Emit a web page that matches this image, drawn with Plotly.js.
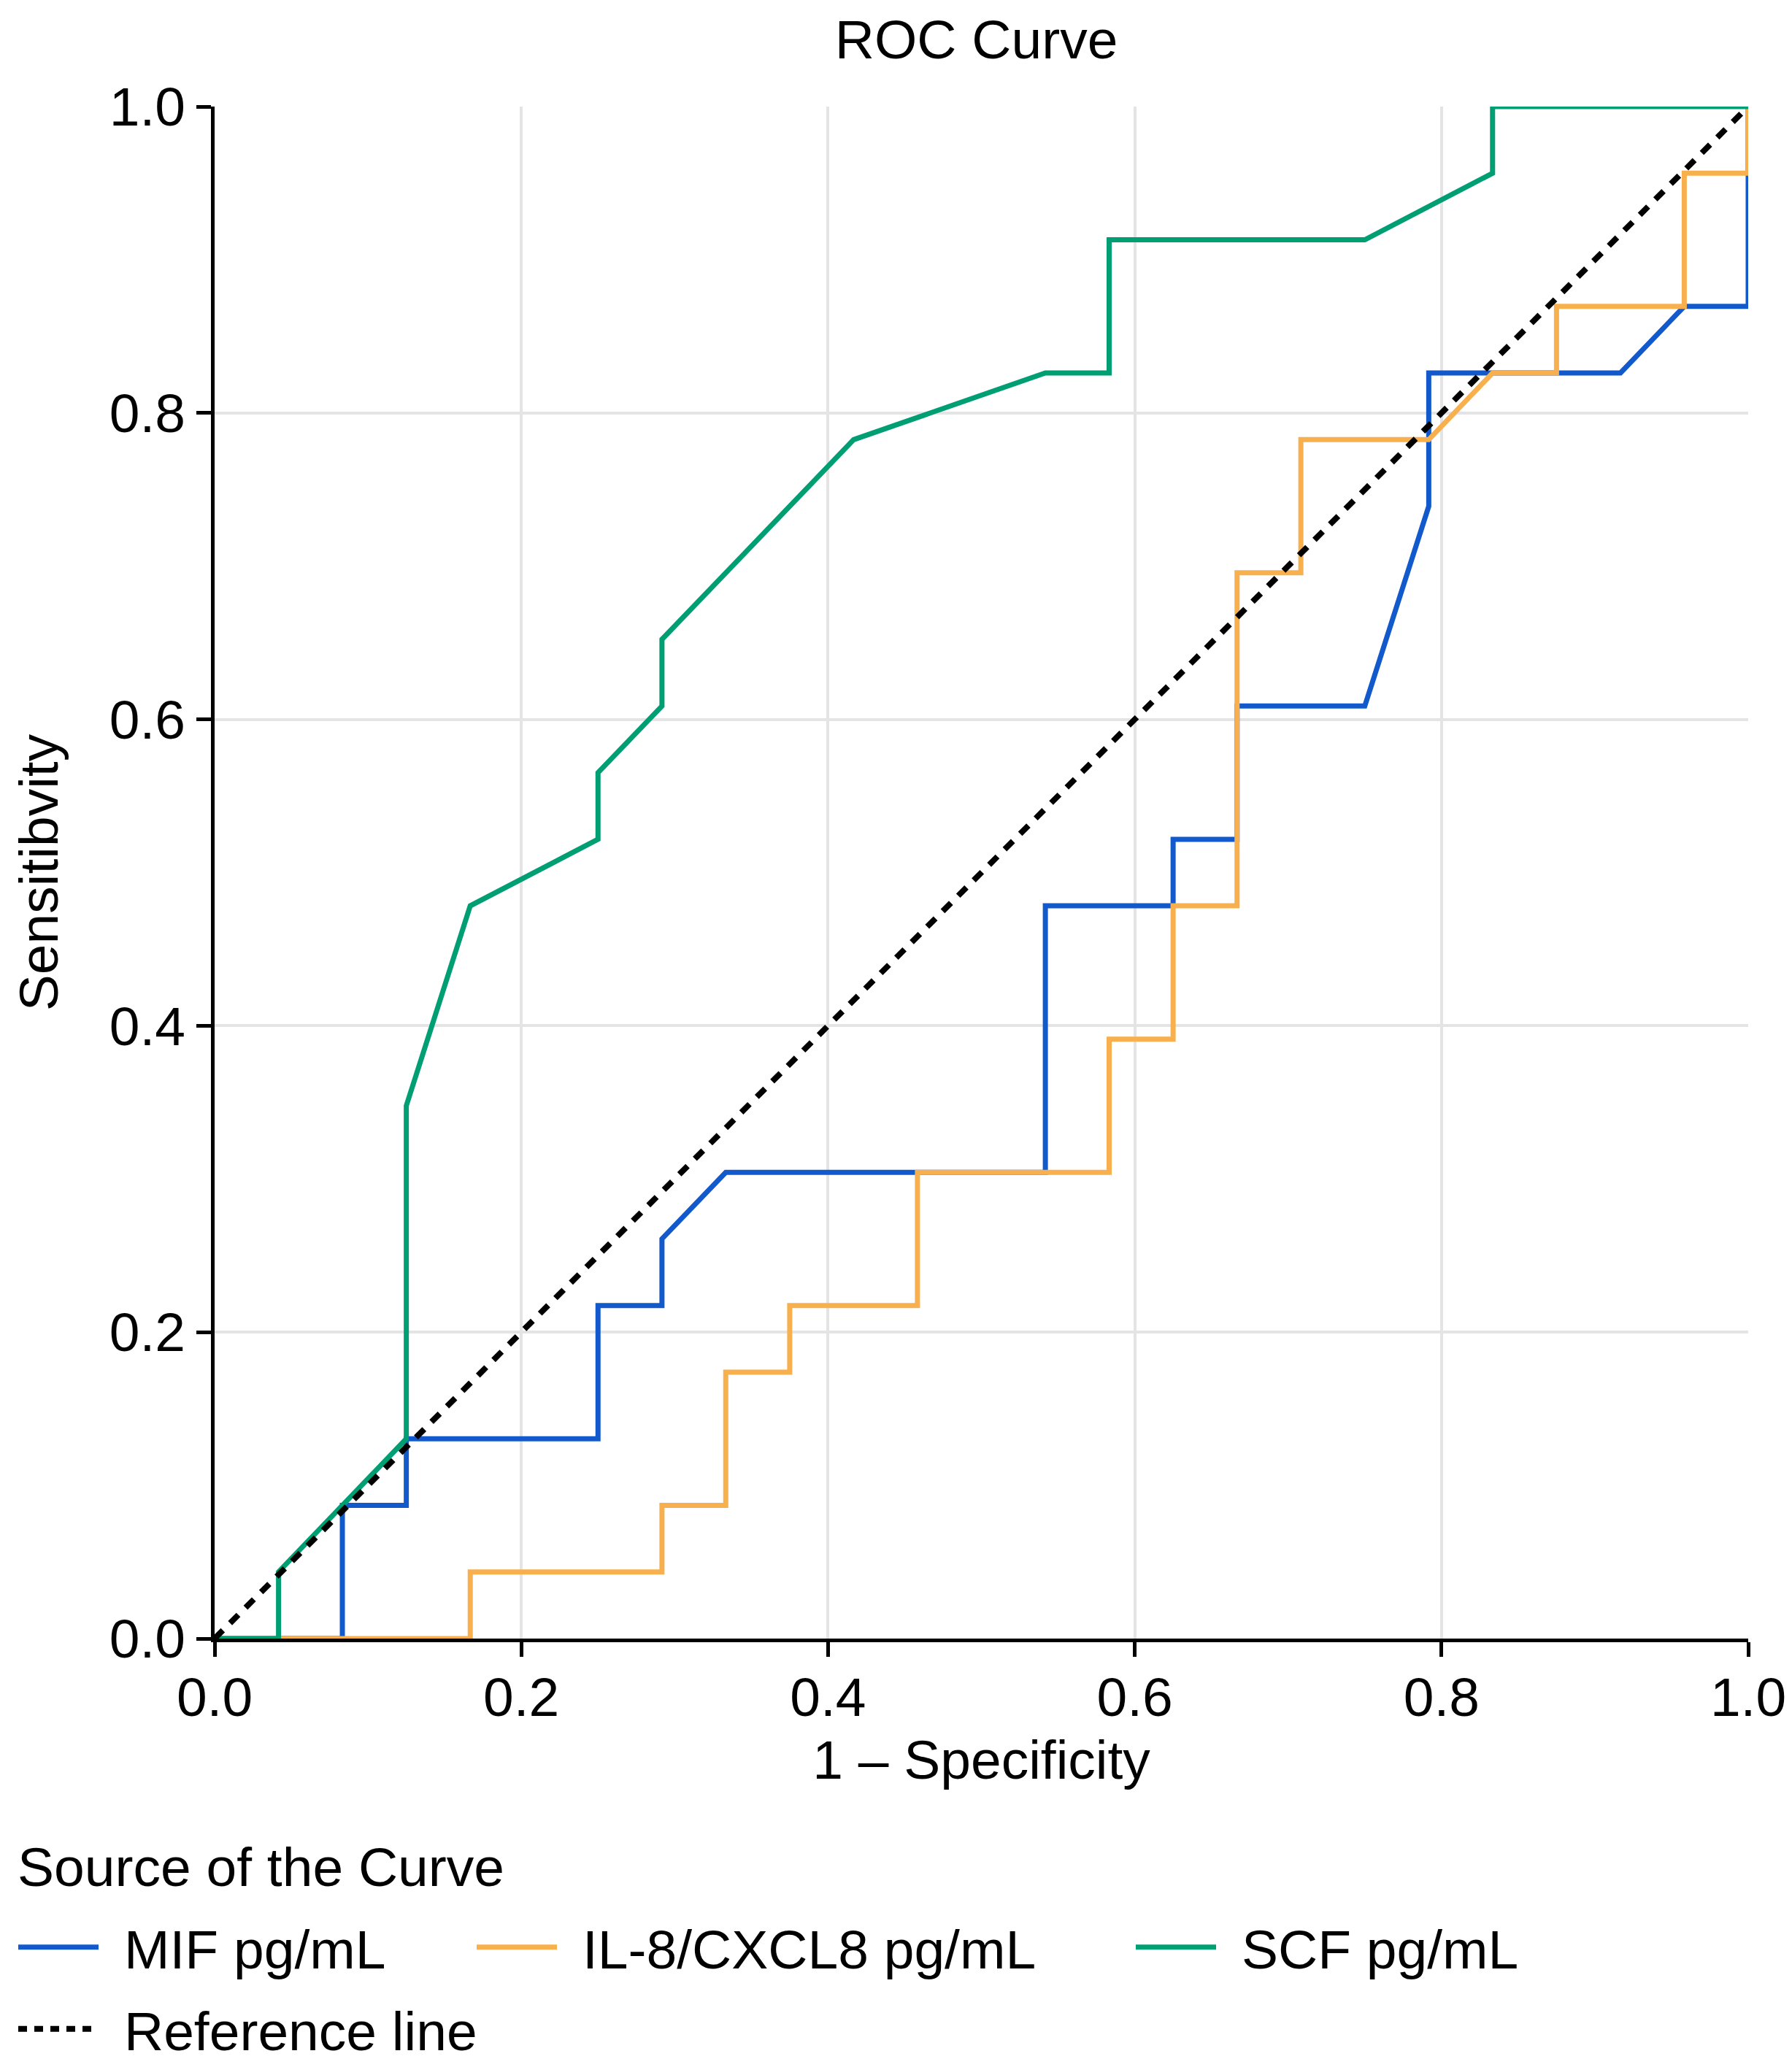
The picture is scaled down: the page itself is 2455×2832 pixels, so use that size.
<!DOCTYPE html>
<html>
<head>
<meta charset="utf-8">
<script src="https://cdn.plot.ly/plotly-3.0.1.min.js"></script>
<style>
  html, body { margin: 0; padding: 0; background: #fff; }
  #roc { width: 2455px; height: 2832px; }
</style>
</head>
<body>
<div id="roc"></div>
<script>
// 1 - specificity / sensitivity pairs
var mifX = [0, 0.0833, 0.0833, 0.125, 0.125, 0.25, 0.25, 0.2917, 0.2917, 0.3333, 0.5417, 0.5417, 0.625, 0.625, 0.6667, 0.6667, 0.75, 0.7917, 0.7917, 0.9167, 0.9583, 1.0, 1.0];
var mifY = [0, 0, 0.087, 0.087, 0.1304, 0.1304, 0.2174, 0.2174, 0.2609, 0.3043, 0.3043, 0.4783, 0.4783, 0.5217, 0.5217, 0.6087, 0.6087, 0.7391, 0.8261, 0.8261, 0.8696, 0.8696, 1.0];

var il8X = [0, 0.1667, 0.1667, 0.2917, 0.2917, 0.3333, 0.3333, 0.375, 0.375, 0.4583, 0.4583, 0.5833, 0.5833, 0.625, 0.625, 0.6667, 0.6667, 0.7083, 0.7083, 0.7917, 0.8333, 0.875, 0.875, 0.9583, 0.9583, 1.0, 1.0];
var il8Y = [0, 0, 0.0435, 0.0435, 0.087, 0.087, 0.1739, 0.1739, 0.2174, 0.2174, 0.3043, 0.3043, 0.3913, 0.3913, 0.4783, 0.4783, 0.6957, 0.6957, 0.7826, 0.7826, 0.8261, 0.8261, 0.8696, 0.8696, 0.9565, 0.9565, 1.0];

var scfX = [0, 0.0417, 0.0417, 0.125, 0.125, 0.1667, 0.25, 0.25, 0.2917, 0.2917, 0.4167, 0.5417, 0.5833, 0.5833, 0.75, 0.8333, 0.8333, 1.0];
var scfY = [0, 0, 0.0435, 0.1304, 0.3478, 0.4783, 0.5217, 0.5652, 0.6087, 0.6522, 0.7826, 0.8261, 0.8261, 0.913, 0.913, 0.9565, 1.0, 1.0];

var refX = [0, 1];
var refY = [0, 1];

var seriesNames = ['MIF pg/mL', 'IL-8/CXCL8 pg/mL', 'SCF pg/mL', 'Reference line'];
var tickVals = [0, 0.2, 0.4, 0.6, 0.8, 1.0];
var tickText = ['0.0', '0.2', '0.4', '0.6', '0.8', '1.0'];

var FONT = '"Liberation Sans", Arial, sans-serif';
var SIZE = 75;

function curve(x, y, name, color, legend) {
    return {
        x: x,
        y: y,
        name: name,
        mode: 'lines',
        type: 'scatter',
        cliponaxis: false,
        legend: legend,
        line: { color: color, width: 7, shape: 'linear' },
        hoverinfo: 'skip'
    };
}

var traces = [
    curve(mifX, mifY, seriesNames[0], '#1259CC', 'legend'),
    curve(il8X, il8Y, seriesNames[1], '#F8B04F', 'legend2'),
    curve(scfX, scfY, seriesNames[2], '#009E73', 'legend3'),
    {
        x: refX,
        y: refY,
        name: seriesNames[3],
        mode: 'lines',
        type: 'scatter',
        cliponaxis: false,
        legend: 'legend4',
        line: { color: '#000000', width: 8, dash: '16px,14px' },
        hoverinfo: 'skip'
    }
];

// one legend per entry so the spacing follows the original
function legendBox(x, y) {
    return {
        orientation: 'h',
        xref: 'container',
        yref: 'container',
        x: x,
        y: y,
        xanchor: 'left',
        yanchor: 'middle',
        bgcolor: 'rgba(0,0,0,0)',
        borderwidth: 0,
        itemwidth: 140,
        itemclick: false,
        itemdoubleclick: false,
        font: { family: FONT, size: SIZE, color: '#000' }
    };
}

var axisCommon = {
    range: [0, 1],
    tickvals: tickVals,
    ticktext: tickText,
    showgrid: true,
    gridcolor: '#e4e4e4',
    gridwidth: 4,
    zeroline: false,
    showline: true,
    linecolor: '#000',
    linewidth: 5,
    ticks: 'outside',
    ticklen: 20,
    tickwidth: 5,
    tickcolor: '#000',
    tickfont: { family: FONT, size: SIZE, color: '#000' },
    fixedrange: true
};

var layout = {
    width: 2455,
    height: 2832,
    margin: { l: 294, r: 60, t: 146, b: 587, pad: 0 },
    paper_bgcolor: '#fff',
    plot_bgcolor: '#fff',
    font: { family: FONT, size: SIZE, color: '#000' },
    title: {
        text: 'ROC Curve',
        x: 0.4967,
        xref: 'paper',
        xanchor: 'center',
        y: 1 - 54 / 2832,
        yref: 'container',
        yanchor: 'middle',
        font: { family: FONT, size: SIZE, color: '#000' }
    },
    xaxis: Object.assign({}, axisCommon, {
        ticklabelstandoff: -9,
        title: { text: '1 \u2013 Specificity', font: { family: FONT, size: SIZE, color: '#000' }, standoff: 20 }
    }),
    yaxis: Object.assign({}, axisCommon, {
        title: { text: 'Sensitibvity', font: { family: FONT, size: SIZE, color: '#000' }, standoff: 47 }
    }),
    annotations: [{
        text: 'Source of the Curve',
        xref: 'paper',
        yref: 'paper',
        x: -0.1295,
        y: -0.1491,
        xanchor: 'left',
        yanchor: 'middle',
        showarrow: false,
        font: { family: FONT, size: SIZE, color: '#000' }
    }],
    legend: legendBox(20 / 2455, 1 - 2668 / 2832),
    legend2: legendBox(648 / 2455, 1 - 2668 / 2832),
    legend3: legendBox(1551 / 2455, 1 - 2668 / 2832),
    legend4: legendBox(20 / 2455, 1 - 2780 / 2832),
    showlegend: true
};

Plotly.newPlot('roc', traces, layout, { displayModeBar: false, staticPlot: true }).then(function (gd) {
    // legend keys: shorter line than itemwidth, finer dots for the reference line
    gd.querySelectorAll('.legendlines path').forEach(function (p) {
        p.setAttribute('d', 'M5,0h110');
        var dash = p.style.strokeDasharray;
        if (dash && dash !== 'none') {
            p.style.strokeDasharray = '12px,10px';
        }
    });
});
</script>
</body>
</html>
